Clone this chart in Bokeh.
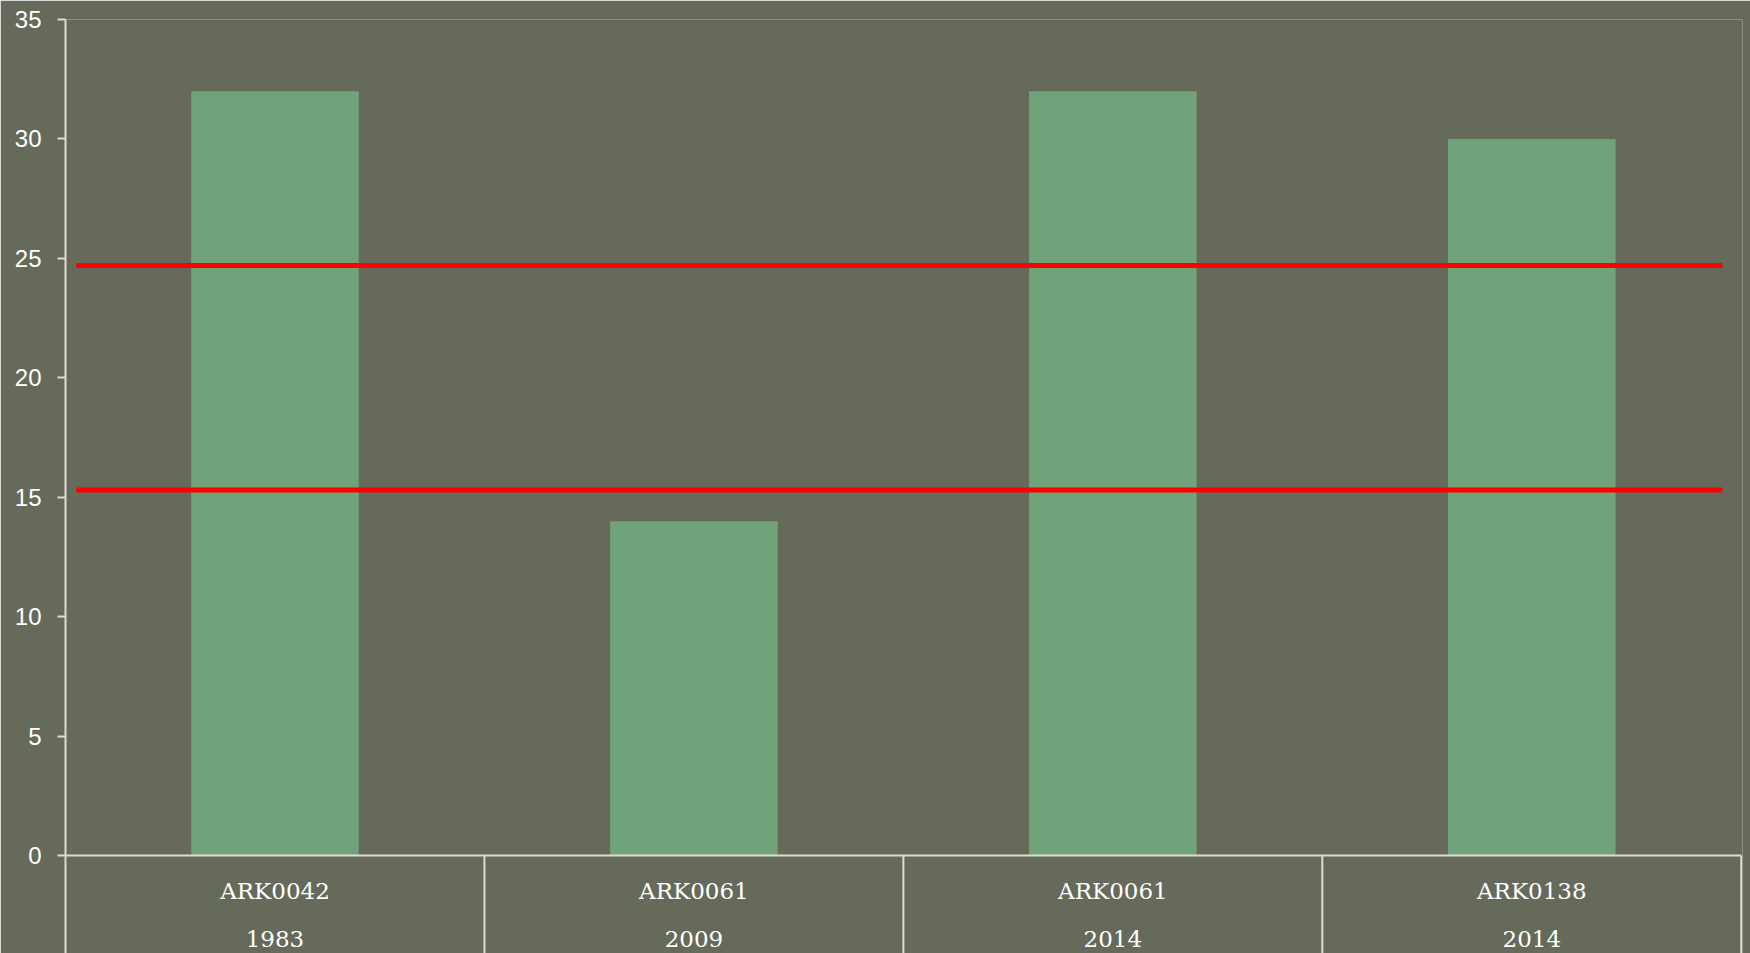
from bokeh.plotting import figure
from bokeh.models import Range1d, FixedTicker, ColumnDataSource
from bokeh.core.properties import value
from bokeh.embed import file_html
from bokeh.resources import INLINE

# ---- data ----
ids = ["ARK0042", "ARK0061", "ARK0061", "ARK0138"]
years = ["1983", "2009", "2014", "2014"]
counts = [32, 14, 32, 30]
limits = [15.3, 24.7]          # red reference lines
limit_x = [0.026, 3.955]       # extent of reference lines (category units)
y_ticks = [0, 5, 10, 15, 20, 25, 30, 35]

BG = "#666a5b"
BAR = "#70a379"
AX = "#dcdcd6"

n = len(ids)
centers = [i + 0.5 for i in range(n)]
Y_MIN = -4.1

p = figure(width=1750, height=953, output_backend="svg", toolbar_location=None,
           x_range=Range1d(0, n + 0.003), y_range=Range1d(Y_MIN, 35),
           min_border_left=65, min_border_top=19, min_border_right=8, min_border_bottom=0)
p.background_fill_color = BG
p.border_fill_color = BG
p.outline_line_color = None
p.grid.visible = False
p.xaxis.visible = False

ya = p.yaxis[0]
ya.ticker = FixedTicker(ticks=y_ticks)
ya.axis_line_color = AX
ya.axis_line_width = 2
ya.major_tick_line_color = AX
ya.major_tick_line_width = 2
ya.major_tick_out = 8
ya.major_tick_in = 0
ya.minor_tick_line_color = None
ya.major_label_text_color = "white"
ya.major_label_text_font = "Liberation Sans"
ya.major_label_text_font_size = "24px"
ya.major_label_standoff = 16

src = ColumnDataSource(dict(x=centers, top=counts, ids=ids, years=years))
p.vbar(x="x", top="top", bottom=0, width=0.4, source=src, fill_color=BAR, line_color=None)

# baseline and category separators
p.segment(x0=[0], y0=[0], x1=[n], y1=[0], line_color=AX, line_width=2)
seps = list(range(1, n + 1))
p.segment(x0=seps, y0=[0] * len(seps), x1=seps, y1=[Y_MIN] * len(seps), line_color=AX, line_width=2)

# reference lines
for lv in limits:
    p.line(x=limit_x, y=[lv, lv], line_color="#ff0000", line_width=5)

# category labels
p.text(x="x", y=-1.47, text="ids", source=src, text_color="white",
       text_font=value("DejaVu Serif"), text_font_size="23px",
       text_align="center", text_baseline="middle")
p.text(x="x", y=-3.5, text="years", source=src, text_color="white",
       text_font=value("DejaVu Serif"), text_font_size="23px",
       text_align="center", text_baseline="middle")

open("out.html", "w").write(file_html(p, INLINE))
